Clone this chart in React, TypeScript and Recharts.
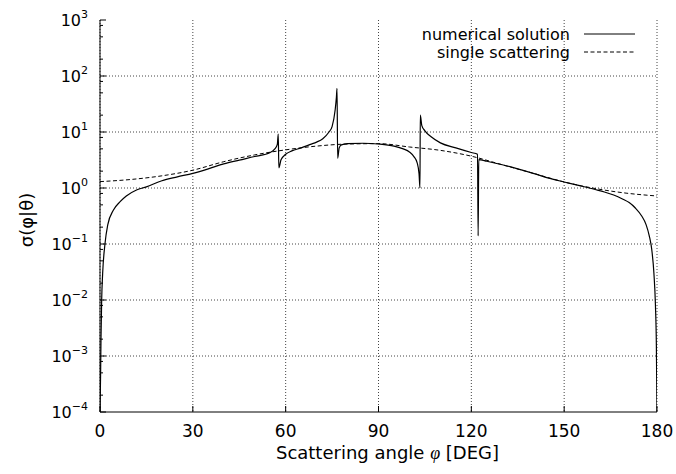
import React from 'react';
import { LineChart, Line, XAxis, YAxis, CartesianGrid, ReferenceLine, Legend, Label } from 'recharts';

const FONT = '"DejaVu Sans", sans-serif';

const angleTicks = [0, 30, 60, 90, 120, 150, 180];
const decadeTicks = [1e-4, 1e-3, 1e-2, 1e-1, 1, 1e1, 1e2, 1e3];
const minorSteps = [2, 5, 8];

// numerical solution
const numericalAngles = [
  0, 0.2, 0.32, 0.54, 0.86, 1.6, 2.5, 4.3, 6.5, 8.5, 11.8, 15, 20, 25, 30, 35, 40, 45, 50, 55,
  56.5, 57.3, 57.6, 57.8, 58.5, 60, 62, 65, 68, 70, 72, 74, 75, 76, 76.4, 76.6, 76.8, 77.3, 78,
  80, 85, 90, 95, 98, 100, 101.5, 102.5, 103.1, 103.4, 103.5, 104, 105, 107, 110, 115, 120, 122,
  122.2, 122.4, 125, 130, 135, 140, 145, 150, 155, 160, 163, 166, 169, 171, 173, 175, 176.5,
  177.5, 178.3, 179, 179.5, 179.8, 180,
];
const numericalValues = [
  1e-4, 5e-4, 2e-3, 0.01, 0.03, 0.1, 0.22, 0.4, 0.57, 0.72, 0.92, 1.05, 1.35, 1.58, 1.83, 2.2, 2.7,
  3.15, 3.65, 4.3, 5.0, 6.0, 9.2, 2.3, 3.2, 4.0, 4.6, 5.2, 6.0, 6.6, 7.6, 10, 12.5, 25, 42, 60, 3.4,
  5.2, 5.9, 6.2, 6.3, 6.1, 5.6, 5.0, 4.4, 3.6, 2.8, 1.8, 1.0, 20, 13, 10.5, 8.2, 6.4, 5.2, 4.3,
  4.0, 0.14, 3.2, 3.0, 2.6, 2.2, 1.83, 1.5, 1.28, 1.1, 0.94, 0.85, 0.75, 0.63, 0.55, 0.44, 0.32,
  0.22, 0.14, 0.08, 0.03, 0.008, 1.5e-3, 1e-4,
];

// single scattering approximation
const singleAngles = [0, 10, 20, 30, 40, 50, 60, 70, 80, 90, 100, 110, 120, 130, 140, 150, 160, 170, 180];
const singleValues = [1.3, 1.42, 1.65, 2.08, 2.95, 3.9, 4.8, 5.6, 6.1, 6.2, 5.4, 4.7, 3.7, 2.6, 1.83, 1.28, 0.98, 0.81, 0.72];

const numerical = numericalAngles.map((x, i) => ({ x, y: numericalValues[i] }));
const single = singleAngles.map((x, i) => ({ x, y: singleValues[i] }));

const minorTicks = decadeTicks.slice(0, -1).flatMap((d) => minorSteps.map((m) => d * m));
const yTicks = [...decadeTicks, ...minorTicks].sort((a, b) => a - b);
const isDecade = (v: number) => decadeTicks.some((d) => Math.abs(v / d - 1) < 1e-9);

function LeftTick({ x, y, payload }: any) {
  const v = payload.value;
  const major = isDecade(v);
  const exp = Math.round(Math.log10(v));
  return (
    <g>
      <line x1={x} x2={x + (major ? 6 : 3)} y1={y} y2={y} stroke="#000" />
      {major && (
        <text x={x - 12} y={y + 6} textAnchor="end" fontSize={16} fontFamily={FONT} fill="#000">
          10
          <tspan dy={-8} fontSize={11}>
            {exp < 0 ? `\u2212${-exp}` : `${exp}`}
          </tspan>
        </text>
      )}
    </g>
  );
}

function RightTick({ x, y, payload }: any) {
  const major = isDecade(payload.value);
  return <line x1={x} x2={x - (major ? 6 : 3)} y1={y} y2={y} stroke="#000" />;
}

function BottomTick({ x, y, payload }: any) {
  return (
    <g>
      <line x1={x} x2={x} y1={y} y2={y - 6} stroke="#000" />
      <text x={x} y={y + 25} textAnchor="middle" fontSize={17} fontFamily={FONT} fill="#000">
        {payload.value}
      </text>
    </g>
  );
}

function TopTick({ x, y }: any) {
  return <line x1={x} x2={x} y1={y} y2={y + 6} stroke="#000" />;
}

function renderLegend({ payload }: any) {
  return (
    <svg width={270} height={50}>
      {(payload || []).map((entry: any, i: number) => (
        <g key={entry.value}>
          <text x={190} y={20 + i * 18} textAnchor="end" fontSize={16} fontFamily={FONT} fill="#000">
            {entry.value}
          </text>
          <line
            x1={204}
            x2={255}
            y1={14 + i * 18}
            y2={14 + i * 18}
            stroke="#000"
            strokeWidth={1}
            strokeDasharray={entry.payload?.strokeDasharray}
          />
        </g>
      ))}
    </svg>
  );
}

export default function App() {
  return (
    <div style={{ position: 'absolute', left: 0, top: 0 }}>
      <LineChart width={676} height={474} margin={{ top: 20, right: 19, bottom: 0, left: 0 }}>
        <CartesianGrid horizontal={false} stroke="#444" strokeDasharray="1 2" />
        {decadeTicks.slice(1, -1).map((d) => (
          <ReferenceLine key={d} y={d} stroke="#444" strokeDasharray="1 2" />
        ))}
        <XAxis
          dataKey="x"
          type="number"
          domain={[0, 180]}
          ticks={angleTicks}
          interval={0}
          height={62}
          tickSize={0}
          tickMargin={0}
          tickLine={false}
          tick={<BottomTick />}
          axisLine={{ stroke: '#000' }}
          allowDataOverflow
        >
          <Label
            content={({ viewBox }: any) => (
              <text
                x={viewBox.x + viewBox.width / 2 + 9}
                y={viewBox.y + viewBox.height - 15}
                textAnchor="middle"
                fontSize={18}
                fontFamily={FONT}
                fill="#000"
              >
                Scattering angle <tspan fontStyle="italic" fontFamily="Liberation Serif, serif">φ</tspan> [DEG]
              </text>
            )}
          />
        </XAxis>
        <XAxis
          xAxisId="top"
          orientation="top"
          type="number"
          domain={[0, 180]}
          ticks={angleTicks}
          interval={0}
          height={0}
          tickSize={0}
          tickMargin={0}
          tickLine={false}
          tick={<TopTick />}
          axisLine={{ stroke: '#000' }}
        />
        <YAxis
          type="number"
          scale="log"
          domain={[1e-4, 1e3]}
          ticks={yTicks}
          interval={0}
          width={100}
          tickSize={0}
          tickMargin={0}
          tickLine={false}
          tick={<LeftTick />}
          axisLine={{ stroke: '#000' }}
          allowDataOverflow
        >
          <Label
            content={({ viewBox }: any) => {
              const cx = viewBox.x + 26;
              const cy = viewBox.y + viewBox.height / 2 + 4;
              return (
                <text
                  x={cx}
                  y={cy}
                  transform={`rotate(-90 ${cx} ${cy})`}
                  textAnchor="middle"
                  dominantBaseline="central"
                  fontSize={18}
                  fontFamily={FONT}
                  fill="#000"
                >
                  σ(φ|θ)
                </text>
              );
            }}
          />
        </YAxis>
        <YAxis
          yAxisId="right"
          orientation="right"
          type="number"
          scale="log"
          domain={[1e-4, 1e3]}
          ticks={yTicks}
          interval={0}
          width={0}
          tickSize={0}
          tickMargin={0}
          tickLine={false}
          tick={<RightTick />}
          axisLine={{ stroke: '#000' }}
          allowDataOverflow
        />
        <Legend
          layout="horizontal"
          verticalAlign="middle"
          align="center"
          content={renderLegend}
          wrapperStyle={{ left: 380, top: 20, width: 270, height: 50 }}
        />
        <Line
          data={numerical}
          dataKey="y"
          name="numerical solution"
          type="monotone"
          stroke="#000"
          strokeWidth={1.2}
          dot={false}
          activeDot={false}
          isAnimationActive={false}
        />
        <Line
          data={single}
          dataKey="y"
          name="single scattering"
          type="monotone"
          stroke="#000"
          strokeWidth={1}
          strokeDasharray="4 2.5"
          dot={false}
          activeDot={false}
          isAnimationActive={false}
        />
      </LineChart>
    </div>
  );
}
